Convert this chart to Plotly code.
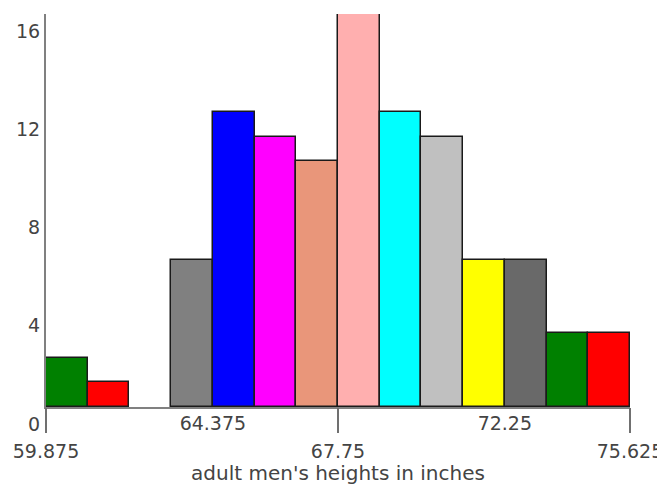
import plotly.graph_objects as go

bin_start = 59.875
bin_width = 1.125
counts = [2, 1, 0, 6, 12, 11, 10, 17, 12, 11, 6, 6, 3, 3]
colors = ["#008000", "#ff0000", "#ffffff", "#808080", "#0000ff", "#ff00ff", "#e9967a",
          "#ffafaf", "#00ffff", "#c0c0c0", "#ffff00", "#696969", "#008000", "#ff0000"]
row1_ticks = [64.375, 72.25]
row2_ticks = [59.875, 67.75, 75.625]
y_ticks = [0, 4, 8, 12, 16]
x_title = "adult men's heights in inches"

centers = [bin_start + bin_width * (i + 0.5) for i in range(len(counts))]
line_w = [0 if c == 0 else 1.5 for c in counts]
x_end = bin_start + bin_width * len(counts)

tick_font = dict(family="DejaVu Sans", size=19, color="#444444")
title_font = dict(family="DejaVu Sans", size=20, color="#444444")

fig = go.Figure()
fig.add_trace(go.Bar(
    x=centers, y=counts, width=bin_width,
    marker=dict(color=colors, line=dict(color="#1a1a1a", width=line_w)),
    hoverinfo="skip", showlegend=False,
))
# invisible trace for second (staggered) tick row
fig.add_trace(go.Scatter(x=[bin_start, x_end], y=[0, 0], xaxis="x2", mode="none",
                         showlegend=False, hoverinfo="skip"))

fig.update_layout(
    width=657, height=477,
    margin=dict(l=38, r=35, t=6, b=78),
    paper_bgcolor="white", plot_bgcolor="white",
    font=tick_font,
    bargap=0,
    xaxis=dict(range=[bin_start, x_end], tickvals=row1_ticks,
               ticktext=[str(v) for v in row1_ticks],
               ticks="", showgrid=False, zeroline=False, automargin=False,
               showline=True, linecolor="#808080", linewidth=2,
               tickfont=tick_font, ticklabelstandoff=-2,
               title=dict(text=x_title, font=title_font, standoff=34)),
    xaxis2=dict(range=[bin_start, x_end], overlaying="x", anchor="y", side="bottom",
                tickvals=row2_ticks, ticktext=[str(v) for v in row2_ticks],
                ticks="outside", ticklen=25, tickwidth=1.5, tickcolor="#707070",
                automargin=False, ticklabelstandoff=2,
                showgrid=False, zeroline=False, showline=False, tickfont=tick_font),
    yaxis=dict(range=[0, 16], tickvals=y_ticks, ticktext=[str(v) for v in y_ticks],
               ticks="", showgrid=False, zeroline=False, automargin=False,
               showline=True, linecolor="#808080", linewidth=2,
               ticklabelshift=17, ticklabelstandoff=0, tickfont=tick_font),
)

fig.write_html("out.html")
